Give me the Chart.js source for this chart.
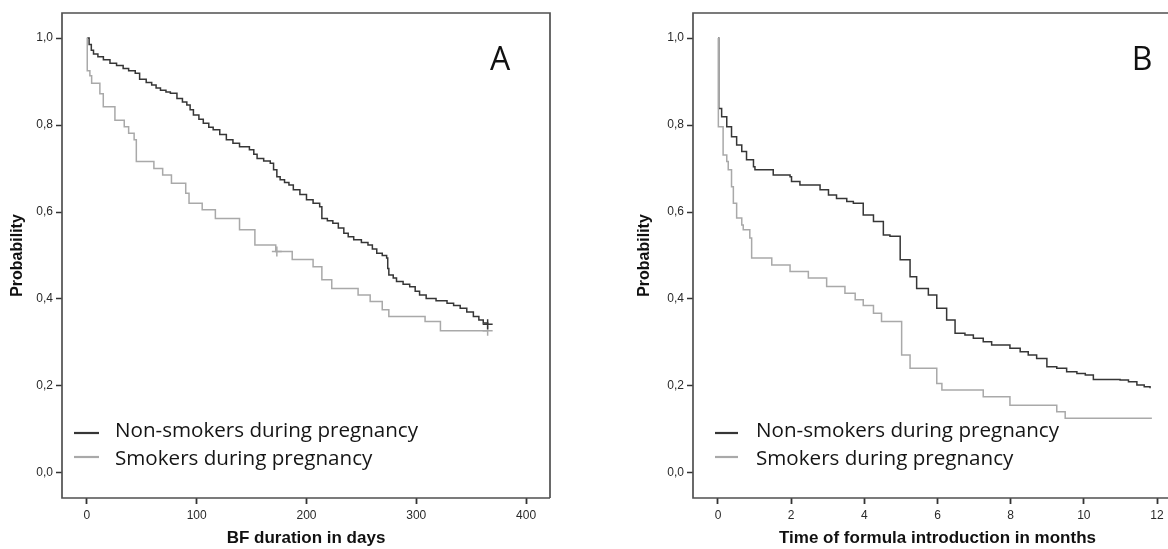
<!DOCTYPE html>
<html><head><meta charset="utf-8">
<script src="https://cdn.jsdelivr.net/npm/chart.js@4.4.1/dist/chart.umd.min.js"></script>
<style>
html,body{margin:0;padding:0;background:#fff;overflow:hidden;width:1168px;height:549px;position:relative}
#cA{position:absolute;left:0;top:0}
#cB{position:absolute;left:590px;top:0}
</style></head><body>
<canvas id="cA" width="590" height="549"></canvas>
<canvas id="cB" width="592" height="549"></canvas>
<script>
// ---- texts ----
const seriesLabels = ['Non-smokers during pregnancy', 'Smokers during pregnancy'];
const panelLabels = ['A', 'B'];
const xTitleA = 'BF duration in days';
const xTitleB = 'Time of formula introduction in months';
const yTitle = 'Probability';

// ---- ticks ----
const yTickValues = [0, 0.2, 0.4, 0.6, 0.8, 1.0];
const yTickLabels = ['0,0', '0,2', '0,4', '0,6', '0,8', '1,0'];
const xTicksA = [0, 100, 200, 300, 400];
const xTicksB = [0, 2, 4, 6, 8, 10, 12];

// ---- Panel A: BF duration (days) ----
const daysNonA = [0,2,4,6,10,15,21,27,33,38,44,48,54,59,63,67,72,76,82,87,91,94,97,102,106,111,115,121,127,133,139,148,152,155,161,167,170,173,176,180,184,188,194,200,206,212,214,219,224,229,234,238,243,250,256,260,264,269,273,274,275,279,282,288,294,299,303,309,318,328,334,340,346,352,357,361,365];
const survNonA = [1.000,0.985,0.972,0.963,0.957,0.950,0.942,0.937,0.930,0.925,0.919,0.905,0.898,0.892,0.885,0.880,0.876,0.873,0.861,0.853,0.846,0.835,0.823,0.813,0.804,0.795,0.789,0.778,0.766,0.758,0.750,0.743,0.733,0.723,0.717,0.712,0.697,0.681,0.674,0.668,0.662,0.651,0.640,0.628,0.620,0.612,0.585,0.580,0.574,0.563,0.551,0.543,0.536,0.530,0.524,0.515,0.505,0.500,0.494,0.470,0.455,0.448,0.440,0.434,0.428,0.418,0.409,0.401,0.396,0.390,0.385,0.379,0.370,0.360,0.352,0.345,0.342];
const daysSmkA = [0,0.3,2.7,4.3,11.8,14.9,25.5,34,38,43,45,61,69,77,90,93,105,117,139,153,172,187,206,214,223,247,258,269,275,308,322,365];
const survSmkA = [1.0,0.925,0.913,0.896,0.872,0.842,0.811,0.796,0.781,0.766,0.716,0.700,0.685,0.666,0.643,0.620,0.605,0.585,0.559,0.524,0.509,0.491,0.474,0.444,0.424,0.409,0.394,0.375,0.360,0.348,0.327,0.327];
const censorDaysNonA = [365];
const censorSurvNonA = [0.342];
const censorDaysSmkA = [173, 365];
const censorSurvSmkA = [0.509, 0.327];

// ---- Panel B: formula introduction (months) ----
const monthsNonB = [0,0.02,0.10,0.24,0.37,0.51,0.65,0.78,0.97,1.01,1.51,1.97,2.01,2.24,2.79,3.02,3.24,3.52,3.70,3.97,4.25,4.52,4.70,4.98,5.25,5.43,5.75,5.98,6.25,6.48,6.75,6.98,7.25,7.48,7.98,8.26,8.48,8.71,8.99,9.26,9.53,9.81,10.04,10.26,10.99,11.22,11.45,11.65,11.81];
const survNonB = [1.0,0.838,0.819,0.796,0.773,0.754,0.739,0.720,0.704,0.697,0.685,0.681,0.670,0.662,0.651,0.639,0.631,0.624,0.620,0.593,0.578,0.547,0.544,0.490,0.451,0.424,0.409,0.379,0.352,0.321,0.317,0.310,0.302,0.294,0.287,0.279,0.271,0.263,0.244,0.241,0.233,0.229,0.225,0.215,0.214,0.210,0.202,0.198,0.195];
const monthsSmkB = [0,0.01,0.14,0.24,0.28,0.37,0.42,0.51,0.65,0.69,0.87,0.92,1.47,1.97,2.47,2.97,3.47,3.75,3.97,4.25,4.47,5.02,5.25,5.98,6.12,7.25,7.98,9.26,9.49,11.86];
const survSmkB = [1.0,0.796,0.731,0.716,0.697,0.658,0.620,0.586,0.570,0.559,0.540,0.494,0.478,0.463,0.448,0.429,0.413,0.398,0.385,0.367,0.348,0.271,0.241,0.206,0.191,0.175,0.156,0.141,0.126,0.126];

// ---- styling ----
const colNon = '#363636';
const colSmk = '#a9a9a9';
const axisCol = '#505050';
const tickFont = {family: 'Liberation Sans, Arial, sans-serif', size: 12};
const xTitleFont = {family: 'Liberation Sans, Arial, sans-serif', size: 17, weight: 'bold'};
const yTitleFont = {family: 'Liberation Sans, Arial, sans-serif', size: 16, weight: 'bold'};

const toPts = (xs, ys) => xs.map((x, i) => ({x: x, y: ys[i]}));

const panelPlugin = {
  id: 'panel',
  afterDraw(chart, args, o) {
    const {ctx, chartArea: a} = chart;
    ctx.save();
    ctx.strokeStyle = axisCol;
    ctx.lineWidth = 1.7;
    ctx.beginPath();
    if (o.drawRight) {
      ctx.moveTo(a.right, a.bottom); ctx.lineTo(a.right, a.top);
    } else {
      ctx.moveTo(a.right + 5, a.top);
    }
    ctx.lineTo(a.left, a.top); ctx.lineTo(a.left, a.bottom); ctx.lineTo(a.right + (o.drawRight ? 0 : 5), a.bottom);
    ctx.stroke();
    // panel letter
    ctx.fillStyle = '#111';
    ctx.font = '32px "Open Sans"';
    ctx.textAlign = 'center';
    ctx.textBaseline = 'alphabetic';
    ctx.fillText(o.letter, o.letterX, o.letterY);
    // legend
    ctx.font = '20.6px "Open Sans"';
    ctx.textAlign = 'left';
    ctx.fillStyle = '#151515';
    o.entries.forEach((e) => {
      const ds = chart.data.datasets[e.ds];
      ctx.strokeStyle = ds.borderColor;
      ctx.lineWidth = 2.2;
      ctx.beginPath();
      ctx.moveTo(o.lx1, e.ly); ctx.lineTo(o.lx2, e.ly);
      ctx.stroke();
      ctx.fillText(ds.label, o.tx, e.ty);
    });
    ctx.restore();
  }
};

function makeChart(id, cfg) {
  return new Chart(document.getElementById(id), {
    type: 'line',
    data: {datasets: [
      {label: seriesLabels[0], data: toPts(cfg.xNon, cfg.yNon), borderColor: colNon, borderWidth: 1.5, stepped: 'before', pointRadius: 0, fill: false, order: 2},
      {label: seriesLabels[1], data: toPts(cfg.xSmk, cfg.ySmk), borderColor: colSmk, borderWidth: 1.5, stepped: 'before', pointRadius: 0, fill: false, order: 1},
      {type: 'scatter', label: 'cNon', data: toPts(cfg.cxNon, cfg.cyNon), borderColor: colNon, pointStyle: 'cross', pointRadius: 5, pointBorderWidth: 1.5, showLine: false, order: 0},
      {type: 'scatter', label: 'cSmk', data: toPts(cfg.cxSmk, cfg.cySmk), borderColor: colSmk, pointStyle: 'cross', pointRadius: 5, pointBorderWidth: 1.5, showLine: false, order: 0}
    ]},
    options: {
      responsive: false,
      animation: false,
      events: [],
      layout: {padding: {top: 13, right: cfg.padRight, left: cfg.padLeft, bottom: 0}},
      plugins: {
        legend: {display: false},
        tooltip: {enabled: false},
        panel: cfg.panel
      },
      scales: {
        x: {
          type: 'linear', position: 'bottom', min: cfg.xMin, max: cfg.xMax,
          afterBuildTicks: (s) => { s.ticks = cfg.xTicks.map(v => ({value: v})); },
          afterFit: (s) => { s.height = 51; },
          border: {display: false},
          grid: {display: true, drawOnChartArea: false, drawTicks: true, tickLength: 6, tickColor: '#333', tickWidth: 1.8},
          ticks: {font: tickFont, color: '#2a2a2a', padding: 4, maxRotation: 0},
          title: {display: true, text: cfg.xTitle, font: xTitleFont, color: '#111', padding: {top: 0, bottom: 0}}
        },
        y: {
          type: 'linear', min: -0.0575, max: 1.0575,
          afterBuildTicks: (s) => { s.ticks = yTickValues.map(v => ({value: v})); },
          afterFit: (s) => { s.width = cfg.yWidth; },
          border: {display: false},
          grid: {display: true, drawOnChartArea: false, drawTicks: true, tickLength: 6, tickColor: '#333', tickWidth: 1.5},
          ticks: {font: tickFont, color: '#2a2a2a', padding: 3, callback: (v, i) => yTickLabels[i]},
          title: {display: true, text: yTitle, font: yTitleFont, color: '#111', padding: {top: 8, bottom: 0}}
        }
      }
    },
    plugins: [panelPlugin]
  });
}

makeChart('cA', {
  xNon: daysNonA, yNon: survNonA, xSmk: daysSmkA, ySmk: survSmkA,
  cxNon: censorDaysNonA, cyNon: censorSurvNonA, cxSmk: censorDaysSmkA, cySmk: censorSurvSmkA,
  xMin: -22.7, xMax: 421.8, xTicks: xTicksA, xTitle: xTitleA,
  padLeft: 0, padRight: 40, yWidth: 62,
  panel: {drawRight: true, letter: panelLabels[0], letterX: 500, letterY: 70,
    lx1: 74, lx2: 99, tx: 115,
    entries: [{ds: 0, ly: 433, ty: 437}, {ds: 1, ly: 457, ty: 465}]}
});

makeChart('cB', {
  xNon: monthsNonB, yNon: survNonB, xSmk: monthsSmkB, ySmk: survSmkB,
  cxNon: [], cyNon: [], cxSmk: [], cySmk: [],
  xMin: -0.683, xMax: 12.683, xTicks: xTicksB, xTitle: xTitleB,
  padLeft: 37, padRight: 0, yWidth: 66,
  panel: {drawRight: false, letter: panelLabels[1], letterX: 552, letterY: 70,
    lx1: 125, lx2: 148, tx: 166,
    entries: [{ds: 0, ly: 433, ty: 437}, {ds: 1, ly: 457, ty: 465}]}
});
</script>
</body></html>
